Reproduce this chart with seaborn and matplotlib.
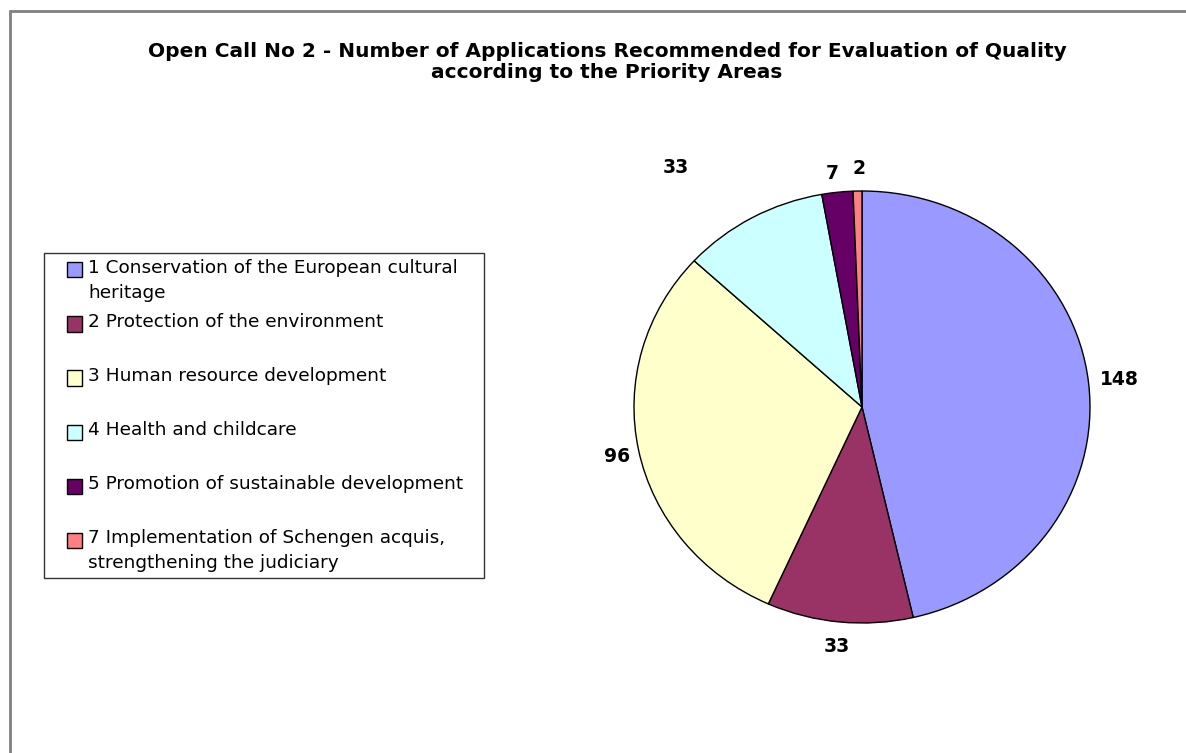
import matplotlib
matplotlib.use("Agg")
import matplotlib.pyplot as plt
from matplotlib.patches import Patch, Rectangle
from matplotlib.legend_handler import HandlerPatch
import numpy as np
import seaborn as sns

# data
areas = ["1 Conservation of the European cultural\nheritage",
         "2 Protection of the environment",
         "3 Human resource development",
         "4 Health and childcare",
         "5 Promotion of sustainable development",
         "7 Implementation of Schengen acquis,\nstrengthening the judiciary"]
applications = [148, 33, 96, 33, 7, 2]
area_colors = ["#9999FF", "#993366", "#FFFFCC", "#CCFFFF", "#660066", "#FF8080"]

title = ("Open Call No 2 - Number of Applications Recommended for Evaluation of Quality\n"
         "according to the Priority Areas")

sns.set_theme(style="white")
plt.rcParams['font.family'] = ['DejaVu Sans']
plt.rcParams['text.color'] = 'black'
palette = sns.color_palette(area_colors)

W, H = 1186, 753
fig = plt.figure(figsize=(W / 100, H / 100), dpi=100)
fig.patch.set_facecolor("white")

# outer chart border (only top and left are inside the picture)
fig.patches.append(Rectangle((10 / W, -0.1), 1.2, 1 - 11 / H + 0.1,
                             transform=fig.transFigure, fill=False,
                             edgecolor="#808080", linewidth=2))

fig.text(607 / W, 1 - 42 / H, title, ha="center", va="top",
         fontsize=14.5, fontweight="bold", linespacing=1.15)

# pie axes: centre (862, 407), slightly wider than tall like the original
cx, cy, rx, ry = 862, 407, 228, 216
ax = fig.add_axes([(cx - rx) / W, 1 - (cy + ry) / H, 2 * rx / W, 2 * ry / H])
wedges, _ = ax.pie(applications, colors=palette, startangle=90,
                   counterclock=False, radius=1,
                   wedgeprops=dict(edgecolor="black", linewidth=1))
ax.set_xlim(-1, 1)
ax.set_ylim(-1, 1)
ax.set_aspect("auto")
ax.axis("off")

# value labels just outside each slice (Excel-like placement)
label_r = [1.135, 1.116, 1.10, 1.375, 1.09, 1.106]
label_turn = [0, 0, 0.5, 7.6, 0.7, -0.4]
for w, v, lr, dt in zip(wedges, applications, label_r, label_turn):
    ang = np.deg2rad((w.theta1 + w.theta2) / 2 + dt)
    ax.text(lr * np.cos(ang), lr * np.sin(ang), str(v), ha="center",
            va="center", fontsize=13.5, fontweight="bold", clip_on=False)


# legend squares sit next to the first line of each label
def top_square(legend, orig_handle, xdescent, ydescent, width, height, fontsize):
    s = 0.82 * fontsize
    return Rectangle((width - s - 1, -ydescent + height - s + 0.25 * fontsize), s, s)


labels = [a if "\n" in a else a + "\n" for a in areas]
handles = [Patch(facecolor=c, edgecolor="black", linewidth=1) for c in palette]
leg = fig.legend(handles, labels, loc="upper left", mode="expand",
                 bbox_to_anchor=(44 / W, 1 - 577 / H, 440 / W, 324 / H),
                 fontsize=13.3, frameon=True, fancybox=False, edgecolor="black",
                 handlelength=1.85, handleheight=2.0, handletextpad=0.25,
                 labelspacing=0.6, borderpad=0.3, borderaxespad=0,
                 handler_map={Patch: HandlerPatch(patch_func=top_square)})
leg.get_frame().set_linewidth(1)
for t in leg.get_texts():
    t.set_linespacing(1.5)

fig.savefig("out.png", dpi=100, facecolor="white")
